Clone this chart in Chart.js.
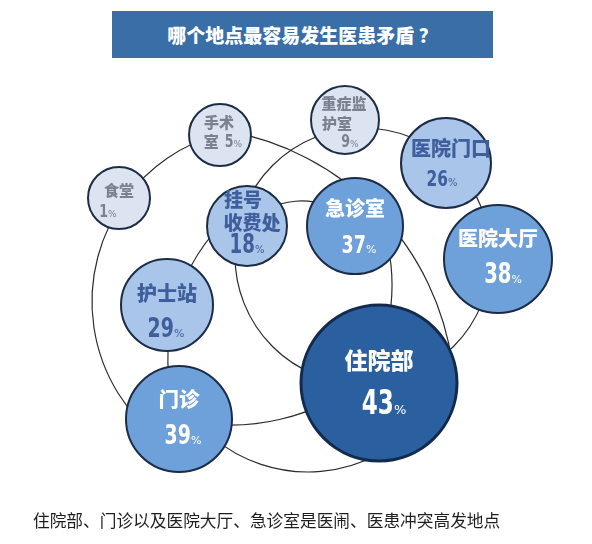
<!DOCTYPE html>
<html lang="zh">
<head>
<meta charset="utf-8">
<title>哪个地点最容易发生医患矛盾？</title>
<script src="https://cdn.jsdelivr.net/npm/chart.js@4.4.1/dist/chart.umd.min.js"></script>
<style>
  html, body { margin: 0; padding: 0; background: #fff; }
  #wrap { position: relative; width: 592px; height: 544px; overflow: hidden; }
  #chart { position: absolute; left: 0; top: 0; }
  .title {
    position: absolute; left: 112px; top: 11px; width: 381px; height: 47px;
    background: #396ea6; color: #fff; text-align: center;
    font: 900 19px "Noto Sans CJK SC", sans-serif; line-height: 47px;
  }
  .caption {
    position: absolute; left: 33px; top: 508px; white-space: nowrap;
    font: 16.7px "Noto Sans CJK SC", sans-serif; line-height: 24px; color: #1e1e1e;
  }
</style>
</head>
<body>
<div id="wrap">
  <canvas id="chart" width="592" height="544"></canvas>
  <div class="title">哪个地点最容易发生医患矛盾 ？</div>
  <div class="caption">住院部、门诊以及医院大厅、急诊室是医闹、医患冲突高发地点</div>
</div>
<script>
// 数据
const categories = ['住院部', '门诊', '医院大厅', '急诊室', '护士站', '医院门口', '挂号收费处', '重症监护室', '手术室', '食堂'];
const shares = [43, 39, 38, 37, 29, 26, 18, 9, 5, 1];

// 版式：气泡位置（坐标轴单位 = 像素）和半径
const bubbleXY = [[379, 383], [179, 419], [498, 259], [355, 226], [167, 305], [446, 163], [247, 226], [345, 120], [220, 135], [119, 198]];
const bubbleR = [78, 53, 54, 48, 46, 45, 40, 34, 31, 31];
const tone = [0, 1, 1, 1, 2, 2, 2, 3, 3, 3];
const fills = ['#2a5fa0', '#6ea0da', '#a9c5ea', '#dce4f2'];
const textColors = ['#ffffff', '#ffffff', '#3f5e9b', '#7b8190'];

// 标签排版
const nameLines = [['住院部'], ['门诊'], ['医院大厅'], ['急诊室'], ['护士站'], ['医院门口'], ['挂号', '收费处'], ['重症监', '护室'], ['手术', '室'], ['食堂']];
const valueLine = [1, 1, 1, 1, 1, 1, 2, 2, 1, 1];
const lineOff = [
  [[0, -23], [5, 19]],
  [[0, -20], [4, 15]],
  [[0, -20], [5, 14]],
  [[0, -17], [4, 18]],
  [[0, -11], [-1, 22]],
  [[5, -14], [-4, 15]],
  [[-4, -26], [5, -3], [0, 17]],
  [[-1, -17], [-8, 3], [5, 20]],
  [[-1, -13], [3, 5]],
  [[0, -8], [-11, 12]]
];
const nameSize = [23, 20.5, 20, 20, 20, 20, 19, 15, 15, 15];
const numSize = [33, 27, 28, 25, 27, 22, 26, 18, 18, 18];
const pctSize = [13, 11, 11, 11, 11, 10, 10, 9, 9, 9];

// 连接圆弧：圆心 x, y, 半径, 起始角, 结束角（度）
const rings = [
  [266, 301.5, 174, 126.5, 254.6],
  [180, 402, 275, -80, -8],
  [308, 323, 149, 40, 143.5],
  [231, 208, 217, 49.8, 103.8],
  [363, 256, 128, 0, 360],
  [362, 358, 194, 161.6, 229],
  [301, 271.8, 70.8, 220.3, 319.7],
  [200, 285, 192, -12, 12]
];

const rad = d => d * Math.PI / 180;

const ringPlugin = {
  id: 'rings',
  beforeDatasetsDraw(chart) {
    const { ctx, scales: { x, y } } = chart;
    ctx.save();
    ctx.strokeStyle = '#2b2b2b';
    ctx.lineWidth = 1.2;
    rings.forEach(([cx, cy, r, a0, a1]) => {
      const px = x.getPixelForValue(cx), py = y.getPixelForValue(cy);
      const pr = x.getPixelForValue(cx + r) - px;
      ctx.beginPath();
      ctx.arc(px, py, pr, rad(a0), rad(a1));
      ctx.stroke();
    });
    ctx.restore();
  }
};

const labelPlugin = {
  id: 'bubbleLabels',
  afterDatasetsDraw(chart) {
    const { ctx, scales: { x, y } } = chart;
    ctx.save();
    ctx.textBaseline = 'alphabetic';
    ctx.textAlign = 'left';
    categories.forEach((name, i) => {
      const cx = x.getPixelForValue(bubbleXY[i][0]);
      const cy = y.getPixelForValue(bubbleXY[i][1]);
      const lines = nameLines[i].map(t => [{ t, font: `900 ${nameSize[i]}px "Noto Sans CJK SC", sans-serif`, sx: 1, size: nameSize[i] }]);
      const valRuns = [
        { t: String(shares[i]), font: `bold ${numSize[i]}px "DejaVu Sans", sans-serif`, sx: 0.7, size: numSize[i] },
        { t: '%', font: `${pctSize[i]}px "DejaVu Sans", sans-serif`, sx: 1, size: 0 }
      ];
      if (valueLine[i] < lines.length) {
        lines[valueLine[i]].push({ gap: 6 }, ...valRuns);
      } else {
        lines.push(valRuns);
      }
      ctx.fillStyle = textColors[tone[i]];
      lines.forEach((runs, li) => {
        const [dx, dy] = lineOff[i][li];
        let w = 0, maxSize = 0;
        runs.forEach(r => {
          if (r.gap) { w += r.gap; return; }
          ctx.font = r.font;
          r.w = ctx.measureText(r.t).width * r.sx;
          w += r.w;
          maxSize = Math.max(maxSize, r.size);
        });
        let px = cx + dx - w / 2;
        const base = cy + dy + 0.37 * maxSize;
        runs.forEach(r => {
          if (r.gap) { px += r.gap; return; }
          ctx.font = r.font;
          ctx.save();
          ctx.translate(px, base);
          ctx.scale(r.sx, 1);
          ctx.fillText(r.t, 0, 0);
          ctx.restore();
          px += r.w;
        });
      });
    });
    ctx.restore();
  }
};

const ctx = document.getElementById('chart').getContext('2d');
new Chart(ctx, {
  type: 'bubble',
  data: {
    datasets: [{
      label: '医患矛盾发生地点',
      data: categories.map((c, i) => ({ x: bubbleXY[i][0], y: bubbleXY[i][1], r: bubbleR[i] })),
      backgroundColor: tone.map(t => fills[t]),
      borderColor: tone.map(t => (t === 0 ? '#142a4d' : '#1d2c45')),
      borderWidth: tone.map(t => (t === 0 ? 3 : 2))
    }]
  },
  options: {
    responsive: false,
    animation: false,
    events: [],
    layout: { padding: 0, autoPadding: false },
    clip: false,
    scales: {
      x: { type: 'linear', min: 0, max: 592, display: false },
      y: { type: 'linear', min: 0, max: 544, reverse: true, display: false }
    },
    plugins: {
      legend: { display: false },
      tooltip: { enabled: false }
    }
  },
  plugins: [ringPlugin, labelPlugin]
});
</script>
</body>
</html>
